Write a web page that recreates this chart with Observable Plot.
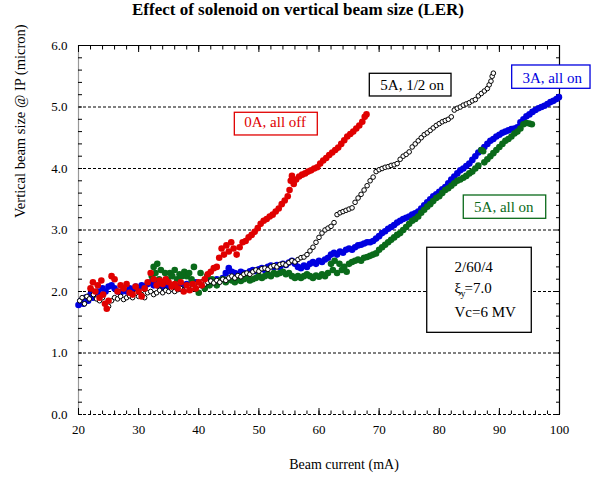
<!DOCTYPE html>
<html><head><meta charset="utf-8">
<script src="https://cdn.jsdelivr.net/npm/d3@7"></script>
<script src="https://cdn.jsdelivr.net/npm/@observablehq/plot@0.6"></script>
<style>
body{margin:0;background:#fff;}
#title{width:596px;height:30px;line-height:22px;text-align:center;font:bold 17px "Liberation Serif","Times New Roman",serif;color:#000;}
svg text{font-family:"Liberation Serif","Times New Roman",serif;}
</style>
</head><body>
<div id="title">Effect of solenoid on vertical beam size (LER)</div>
<div id="chart"></div>
<script>
// ---- data: [beam current (mA), vertical beam size (micron)] ----
const off0A = [[22.0,2.05],[22.4,2.15],[22.8,2.0],[23.2,2.1],[23.5,1.9],[23.8,2.18],[24.1,1.95],[24.4,1.8],[24.7,1.72],[25.0,1.85],[25.5,2.25],[26.0,2.2],[26.5,2.0],[27.0,2.1],[27.5,2.05],[28.0,2.12],[28.5,1.98],[29.0,1.95],[29.5,2.08],[30.0,2.0],[30.5,1.92],[31.0,2.05],[31.5,2.15],[32.0,2.3],[32.5,2.2],[33.0,2.1],[33.5,2.18],[34.0,2.12],[34.5,2.2],[35.0,2.15],[35.5,2.08],[36.0,2.12],[36.5,2.05],[37.0,2.15],[37.5,2.0],[38.0,2.1],[38.5,2.02],[39.0,2.12],[39.5,2.05],[40.0,2.15],[40.5,2.1],[41.0,2.2],[41.5,2.28],[42.0,2.32],[42.5,2.38],[43.0,2.4],[43.4,2.55],[43.8,2.7],[44.2,2.6],[44.6,2.75],[45.0,2.65],[45.4,2.8],[45.8,2.7],[46.3,2.6],[46.8,2.72],[47.3,2.8],[47.8,2.82],[48.3,2.88],[48.8,2.92],[49.3,2.97],[49.8,3.03],[50.3,3.1],[50.8,3.15],[51.3,3.18],[51.8,3.22],[52.3,3.25],[52.8,3.3],[53.3,3.35],[53.8,3.42],[54.3,3.48],[54.8,3.55],[55.1,3.65],[55.3,3.8],[55.5,3.88],[55.8,3.75],[56.2,3.82],[56.7,3.87],[57.2,3.9],[57.7,3.92],[58.2,3.95],[58.7,3.97],[59.2,4.0],[59.7,4.02],[60.2,4.08],[60.7,4.13],[61.2,4.17],[61.7,4.22],[62.2,4.26],[62.7,4.3],[63.2,4.34],[63.7,4.4],[64.2,4.46],[64.7,4.52],[65.2,4.56],[65.7,4.6],[66.2,4.65],[66.7,4.7],[67.2,4.76],[67.6,4.84],[67.9,4.88]];

const half5A = [[20.2,1.85],[20.6,1.9],[21.0,1.8],[21.4,1.92],[21.8,1.88],[22.1,2.04],[22.5,1.95],[23.0,1.88],[23.5,1.85],[24.0,1.9],[24.5,1.8],[25.0,1.76],[25.5,1.85],[26.0,1.9],[26.5,1.88],[27.0,1.92],[27.5,1.87],[28.0,1.9],[28.5,1.93],[29.0,1.9],[29.5,1.97],[30.0,1.92],[30.5,1.95],[31.0,1.9],[31.5,1.98],[32.0,2.0],[32.5,1.95],[33.0,1.98],[33.5,2.02],[34.0,1.98],[34.5,2.02],[35.0,2.0],[35.5,2.04],[36.0,2.0],[36.5,2.03],[37.0,2.05],[37.5,2.02],[38.0,2.06],[38.5,2.1],[39.0,2.08],[39.5,2.12],[40.0,2.1],[40.5,2.15],[41.0,2.12],[41.5,2.15],[42.0,2.17],[42.5,2.14],[43.0,2.18],[43.5,2.15],[44.0,2.2],[44.5,2.18],[45.0,2.22],[45.5,2.25],[46.0,2.22],[46.5,2.26],[47.0,2.24],[47.5,2.28],[48.0,2.3],[48.5,2.28],[49.0,2.32],[49.5,2.35],[50.0,2.33],[50.5,2.37],[51.0,2.38],[51.5,2.36],[52.0,2.4],[52.5,2.42],[53.0,2.4],[53.5,2.44],[54.0,2.45],[54.5,2.43],[55.0,2.47],[55.5,2.5],[56.0,2.48],[56.5,2.52],[57.0,2.55],[57.5,2.56],[58.0,2.6],[58.5,2.66],[59.0,2.72],[59.5,2.8],[60.0,2.88],[60.5,2.95],[61.0,3.0],[61.5,3.03],[62.0,3.06],[62.5,3.12],[63.0,3.25],[63.5,3.28],[64.0,3.3],[64.5,3.32],[65.0,3.34],[65.5,3.36],[66.0,3.45],[66.5,3.52],[67.0,3.58],[67.5,3.65],[68.0,3.72],[68.5,3.8],[69.0,3.86],[69.5,3.95],[70.0,3.98],[70.5,4.0],[71.0,4.02],[71.5,4.03],[72.0,4.05],[72.5,4.06],[73.0,4.08],[73.5,4.15],[74.0,4.2],[74.5,4.23],[75.0,4.27],[75.5,4.35],[76.0,4.4],[76.5,4.45],[77.0,4.5],[77.5,4.55],[78.0,4.58],[78.5,4.62],[79.0,4.66],[79.5,4.7],[80.0,4.73],[80.5,4.76],[81.0,4.78],[81.5,4.8],[82.0,4.84],[82.5,4.95],[83.0,4.98],[83.5,5.0],[84.0,5.03],[84.5,5.05],[85.0,5.07],[85.5,5.1],[86.0,5.12],[86.5,5.18],[87.0,5.22],[87.5,5.26],[88.0,5.3],[88.3,5.36],[88.6,5.42],[88.8,5.5],[89.0,5.55]];

const all3A = [[20.0,1.78],[20.4,1.85],[20.8,1.8],[21.2,1.9],[21.6,1.85],[22.0,1.95],[22.4,1.9],[22.8,1.98],[23.2,2.0],[23.6,1.95],[24.0,2.05],[24.5,2.0],[25.0,2.08],[25.5,2.1],[26.0,2.05],[26.5,2.0],[27.0,1.98],[27.5,2.02],[28.0,2.0],[28.5,2.05],[29.0,2.02],[29.5,2.08],[30.0,2.05],[30.5,2.1],[31.0,2.08],[31.5,2.12],[32.0,2.15],[32.5,2.1],[33.0,2.12],[33.5,2.08],[34.0,2.05],[34.5,2.1],[35.0,2.08],[35.5,2.05],[36.0,2.1],[36.5,2.08],[37.0,2.05],[37.5,2.1],[38.0,2.12],[38.5,2.08],[39.0,2.1],[39.5,2.15],[40.0,2.12],[40.5,2.1],[41.0,2.15],[41.5,2.2],[42.0,2.18],[42.5,2.15],[43.0,2.2],[43.5,2.18],[44.0,2.22],[44.5,2.3],[45.0,2.38],[45.5,2.32],[46.0,2.3],[46.5,2.28],[47.0,2.32],[47.5,2.3],[48.0,2.28],[48.5,2.33],[49.0,2.35],[49.5,2.33],[50.0,2.36],[50.5,2.38],[51.0,2.35],[51.5,2.4],[52.0,2.42],[52.5,2.4],[53.0,2.43],[53.5,2.4],[54.0,2.45],[54.5,2.43],[55.0,2.47],[55.5,2.5],[56.0,2.45],[56.5,2.4],[57.0,2.38],[57.5,2.42],[58.0,2.4],[58.5,2.45],[59.0,2.48],[59.5,2.45],[60.0,2.5],[60.5,2.48],[61.0,2.52],[61.5,2.55],[62.0,2.6],[62.5,2.63],[63.0,2.6],[63.5,2.65],[64.0,2.63],[64.5,2.68],[65.0,2.7],[65.5,2.68],[66.0,2.72],[66.5,2.75],[67.0,2.76],[67.5,2.78],[68.0,2.8],[68.5,2.8],[69.0,2.82],[69.5,2.86],[70.0,2.9],[70.5,2.95],[71.0,2.98],[71.5,3.02],[72.0,3.05],[72.5,3.08],[73.0,3.12],[73.5,3.15],[74.0,3.18],[74.5,3.2],[75.0,3.22],[75.5,3.25],[76.0,3.27],[76.5,3.3],[77.0,3.35],[77.5,3.4],[78.0,3.45],[78.5,3.5],[79.0,3.55],[79.5,3.58],[80.0,3.62],[80.5,3.66],[81.0,3.7],[81.5,3.76],[82.0,3.82],[82.5,3.87],[83.0,3.92],[83.5,3.97],[84.0,4.0],[84.5,4.04],[85.0,4.08],[85.5,4.14],[86.0,4.2],[86.5,4.26],[87.0,4.3],[87.5,4.35],[88.0,4.4],[88.5,4.45],[89.0,4.48],[89.5,4.52],[90.0,4.55],[90.5,4.58],[91.0,4.6],[91.5,4.62],[92.0,4.64],[92.5,4.65],[93.0,4.67],[93.5,4.75],[94.0,4.8],[94.5,4.85],[95.0,4.88],[95.5,4.92],[96.0,4.95],[96.5,4.98],[97.0,5.0],[97.5,5.02],[98.0,5.05],[98.5,5.08],[99.0,5.1],[99.5,5.13],[99.9,5.16]];

const all5A = [[32.2,2.25],[32.5,2.4],[32.8,2.3],[33.1,2.45],[33.4,2.2],[33.7,2.35],[34.0,2.15],[34.4,2.3],[34.8,2.2],[35.2,2.3],[35.6,2.25],[36.0,2.35],[36.4,2.2],[36.8,2.28],[37.2,2.25],[37.6,2.32],[38.0,2.25],[38.4,2.3],[38.8,2.2],[39.2,2.4],[39.6,2.1],[40.0,1.98],[40.3,2.3],[40.6,2.15],[41.0,2.05],[41.4,2.25],[41.8,2.1],[42.2,2.2],[42.6,2.15],[43.0,2.1],[43.5,2.18],[44.0,2.2],[44.5,2.15],[45.0,2.2],[45.5,2.18],[46.0,2.15],[46.5,2.2],[47.0,2.17],[47.5,2.2],[48.0,2.22],[48.5,2.18],[49.0,2.2],[49.5,2.22],[50.0,2.25],[50.5,2.22],[51.0,2.25],[51.5,2.28],[52.0,2.25],[52.5,2.3],[53.0,2.28],[53.5,2.3],[54.0,2.32],[54.5,2.28],[55.0,2.3],[55.5,2.25],[56.0,2.22],[56.5,2.25],[57.0,2.22],[57.5,2.25],[58.0,2.28],[58.5,2.25],[59.0,2.22],[59.5,2.26],[60.0,2.24],[60.5,2.28],[61.0,2.25],[61.5,2.3],[62.0,2.45],[62.3,2.35],[62.6,2.5],[63.0,2.3],[63.4,2.45],[63.8,2.35],[64.2,2.4],[64.6,2.32],[65.0,2.45],[65.5,2.48],[66.0,2.5],[66.5,2.52],[67.0,2.5],[67.5,2.55],[68.0,2.56],[68.5,2.58],[69.0,2.6],[69.5,2.62],[70.0,2.68],[70.5,2.72],[71.0,2.76],[71.5,2.8],[72.0,2.84],[72.5,2.88],[73.0,2.92],[73.5,2.95],[74.0,3.0],[74.5,3.05],[75.0,3.1],[75.5,3.15],[76.0,3.18],[76.5,3.22],[77.0,3.28],[77.5,3.33],[78.0,3.38],[78.5,3.42],[79.0,3.47],[79.5,3.52],[80.0,3.55],[80.5,3.6],[81.0,3.65],[81.5,3.68],[82.0,3.72],[82.5,3.76],[83.0,3.8],[83.5,3.82],[84.0,3.85],[84.5,3.88],[85.0,3.92],[85.5,3.95],[86.0,4.0],[86.5,4.05],[87.0,4.3],[87.3,4.28],[87.5,4.1],[88.0,4.15],[88.5,4.2],[89.0,4.25],[89.5,4.3],[90.0,4.35],[90.5,4.4],[91.0,4.45],[91.5,4.48],[92.0,4.52],[92.5,4.57],[93.0,4.6],[93.5,4.65],[94.0,4.72],[94.5,4.74],[95.0,4.73],[95.4,4.72]];

// ---- axis ticks and labels ----
const xMajorTicks = [20, 30, 40, 50, 60, 70, 80, 90, 100];
const xMinorTicks = d3.range(20, 101, 2);
const yMajorTicks = [0, 1, 2, 3, 4, 5, 6];
const yMinorTicks = d3.range(0, 31).map(i => i / 5);
const gridLines = [0, 1, 2, 3, 4, 5];
const seriesLabels = ["0A, all off", "5A, 1/2 on", "3A, all on", "5A, all on"];
const infoLines = ["2/60/4", "Vc=6 MV"];

const RED = "#e00000", BLUE = "#0000e0", GREEN = "#0a6a1a", BLACK = "#000";
const FONT = "'Liberation Serif', 'Times New Roman', serif";
const X = d => d[0], Y = d => d[1];

const box = (x1, x2, y1, y2, c) => Plot.rect([0], {x1, x2, y1, y2, fill: "white", stroke: c, strokeWidth: 1.3});
const lab = (t, x, y, c, extra = {}) => Plot.text([t], {x, y, fill: c, fontSize: 15, fontFamily: FONT, ...extra});

const chart = Plot.plot({
  width: 596,
  height: 448,
  marginLeft: 78,
  marginRight: 37,
  marginTop: 15,
  marginBottom: 64,
  style: {fontFamily: FONT, fontSize: "13px", background: "white", overflow: "visible"},
  x: {domain: [20, 100], axis: null},
  y: {domain: [0, 6], axis: null},
  marks: [
    Plot.ruleY(gridLines, {stroke: "#000", strokeDasharray: "3,2", strokeWidth: 1}),
    Plot.ruleY([6], {stroke: "#000", strokeWidth: 1.2}),
    Plot.ruleX([100], {stroke: "#000", strokeWidth: 1.2}),
    Plot.ruleX([20], {stroke: "#999", strokeWidth: 1.2}),
    // inward ticks
    Plot.axisX(xMinorTicks, {anchor: "bottom", tickSize: -3.5, fill: "none", label: null}),
    Plot.axisX(xMajorTicks, {anchor: "bottom", tickSize: -6, fill: "none", label: null}),
    Plot.axisX(xMinorTicks, {anchor: "top", tickSize: -3.5, fill: "none", label: null}),
    Plot.axisX(xMajorTicks, {anchor: "top", tickSize: -6, fill: "none", label: null}),
    Plot.axisY(yMinorTicks, {anchor: "left", tickSize: -4, fill: "none", label: null}),
    Plot.axisY(yMinorTicks, {anchor: "right", tickSize: -4, fill: "none", label: null}),
    // tick labels
    Plot.axisX(xMajorTicks, {anchor: "bottom", tickSize: 0, tickPadding: 10, label: null, fontSize: 13, fontFamily: FONT}),
    Plot.axisY(yMajorTicks, {anchor: "left", tickSize: 0, tickPadding: 11, label: null, tickFormat: d => d.toFixed(1), fontSize: 13, fontFamily: FONT}),
    // axis titles
    Plot.text(["Beam current (mA)"], {frameAnchor: "bottom", dx: 25, dy: 54, fontSize: 14, fontFamily: FONT, fill: "#000"}),
    Plot.text(["Vertical beam size @ IP (micron)"], {frameAnchor: "left", dx: -58, dy: -12, rotate: -90, fontSize: 14.5, fontFamily: FONT, fill: "#000"}),
    // data
    Plot.dot(all3A, {x: X, y: Y, r: 3.3, fill: BLUE, stroke: null}),
    Plot.dot(all5A, {x: X, y: Y, r: 3.3, fill: GREEN, stroke: null}),
    Plot.dot(half5A, {x: X, y: Y, r: 2.3, fill: "white", stroke: BLACK, strokeWidth: 1}),
    Plot.dot(off0A, {x: X, y: Y, r: 3.3, fill: RED, stroke: null}),
    // annotation boxes
    box(46.0, 59.8, 4.537, 4.906, RED),
    lab(seriesLabels[0], 52.7, 4.748, RED),
    box(68.45, 82.04, 5.171, 5.540, BLACK),
    lab(seriesLabels[1], 75.5, 5.35, BLACK),
    box(92.13, 105.16, 5.296, 5.675, BLUE),
    lab(seriesLabels[2], 98.78, 5.467, BLUE),
    box(84.08, 97.79, 3.182, 3.561, GREEN),
    lab(seriesLabels[3], 90.74, 3.377, GREEN),
    box(78.0, 95.39, 1.328, 2.711, BLACK),
    lab(infoLines[0], 82.53, 2.403, BLACK, {textAnchor: "start"}),
    lab("ξ", 82.53, 2.06, BLACK, {textAnchor: "start"}),
    lab("y", 82.53, 2.06, BLACK, {textAnchor: "start", fontSize: 10, dx: 6, dy: 6}),
    lab("=7.0", 82.53, 2.06, BLACK, {textAnchor: "start", dx: 10}),
    lab(infoLines[1], 82.53, 1.663, BLACK, {textAnchor: "start"})
  ]
});
document.getElementById("chart").appendChild(chart);
</script>
</body></html>
